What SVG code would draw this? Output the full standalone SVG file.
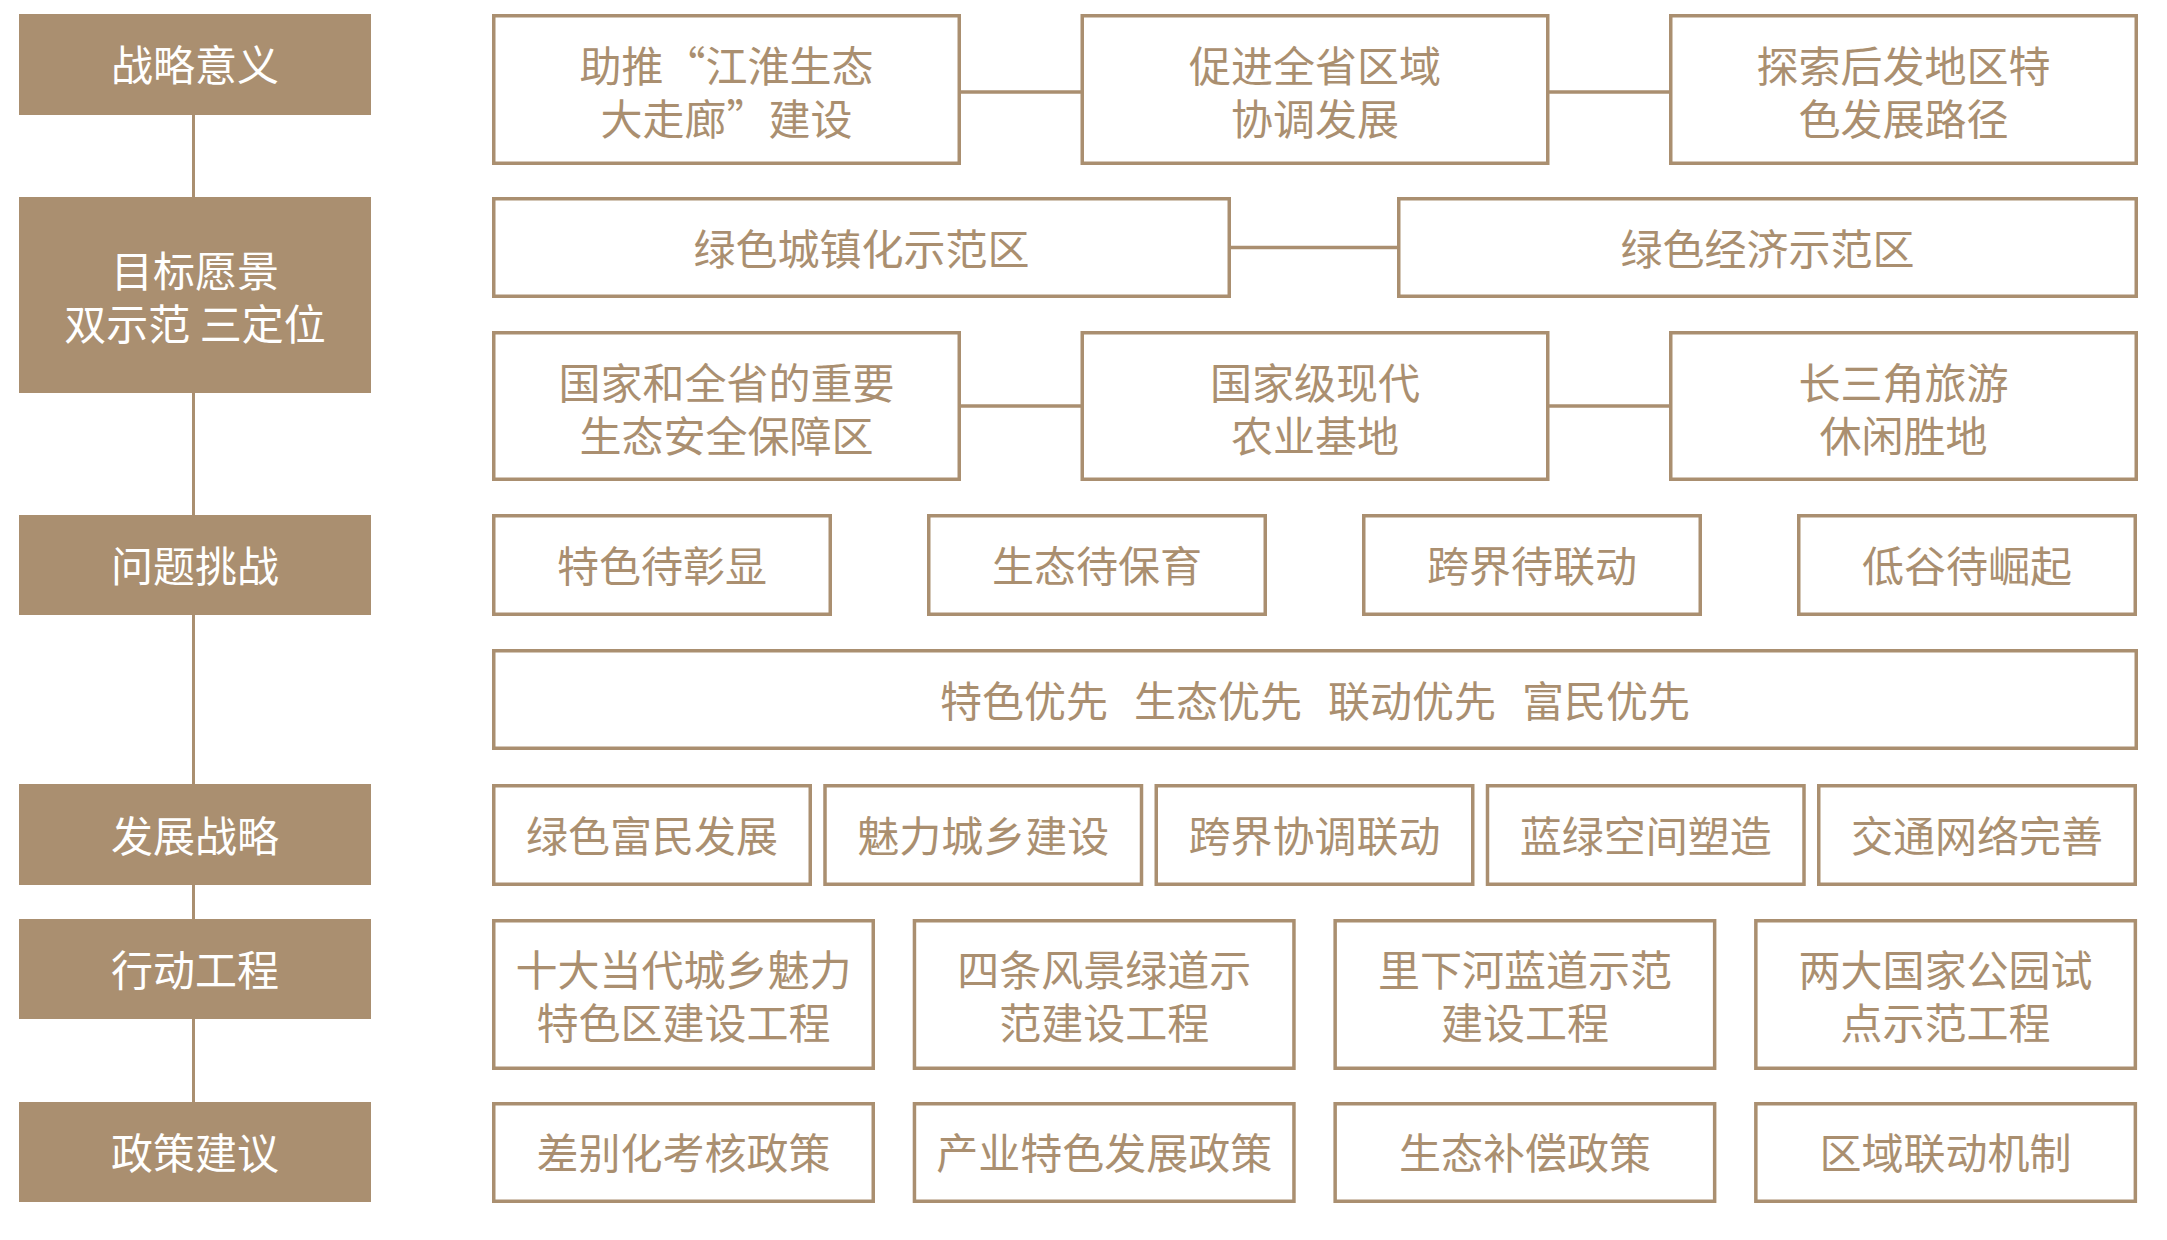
<svg xmlns="http://www.w3.org/2000/svg" width="2167" height="1240" viewBox="0 0 2167 1240">
<style>
.lb{fill:#AA8F70}
.bx{fill:#fff;stroke:#AA8F70;stroke-width:3.5}
.ln{stroke:#AA8F70;stroke-width:3.5;fill:none}
text{font-family:"Noto Sans CJK SC","Noto Sans",sans-serif;font-size:42px;font-weight:400;text-anchor:middle;dominant-baseline:central}
.tw{fill:#fff}
.tb{fill:#AA8F70}
</style>
<rect width="2167" height="1240" fill="#fff"/>
<g id="connectors">
<line class="ln" x1="193.5" y1="110" x2="193.5" y2="1105" style="stroke-width:3"/>
<line class="ln" x1="961" y1="92" x2="1081" y2="92"/>
<line class="ln" x1="1549" y1="92" x2="1670" y2="92"/>
<line class="ln" x1="1231" y1="247.5" x2="1398" y2="247.5"/>
<line class="ln" x1="961" y1="406" x2="1081" y2="406"/>
<line class="ln" x1="1549" y1="406" x2="1670" y2="406"/>
</g>
<g id="L1"><rect class="lb" x="19" y="14" width="352" height="101"/><text class="tw" x="195" y="62.5">战略意义</text></g>
<g id="L2"><rect class="lb" x="19" y="197" width="352" height="196"/><text class="tw" x="195" y="268">目标愿景</text><text class="tw" x="195" y="321">双示范 三定位</text></g>
<g id="L3"><rect class="lb" x="19" y="515" width="352" height="100"/><text class="tw" x="195" y="563">问题挑战</text></g>
<g id="L4"><rect class="lb" x="19" y="784" width="352" height="101"/><text class="tw" x="195" y="833">发展战略</text></g>
<g id="L5"><rect class="lb" x="19" y="919" width="352" height="100"/><text class="tw" x="195" y="967">行动工程</text></g>
<g id="L6"><rect class="lb" x="19" y="1102" width="352" height="100"/><text class="tw" x="195" y="1150">政策建议</text></g>

<g id="r1a"><rect class="bx" x="493.75" y="15.75" width="465.5" height="147.5"/><text class="tb" x="726.5" y="63">助推“江淮生态</text><text class="tb" x="726.5" y="116">大走廊”建设</text></g>
<g id="r1b"><rect class="bx" x="1082.25" y="15.75" width="465.5" height="147.5"/><text class="tb" x="1315" y="63">促进全省区域</text><text class="tb" x="1315" y="116">协调发展</text></g>
<g id="r1c"><rect class="bx" x="1670.75" y="15.75" width="465.5" height="147.5"/><text class="tb" x="1903.5" y="63">探索后发地区特</text><text class="tb" x="1903.5" y="116">色发展路径</text></g>

<g id="r2a"><rect class="bx" x="493.75" y="198.75" width="735.5" height="97.5"/><text class="tb" x="861.5" y="246">绿色城镇化示范区</text></g>
<g id="r2b"><rect class="bx" x="1398.75" y="198.75" width="737.5" height="97.5"/><text class="tb" x="1767.5" y="246">绿色经济示范区</text></g>

<g id="r3a"><rect class="bx" x="493.75" y="332.75" width="465.5" height="146.5"/><text class="tb" x="726.5" y="380">国家和全省的重要</text><text class="tb" x="726.5" y="433">生态安全保障区</text></g>
<g id="r3b"><rect class="bx" x="1082.25" y="332.75" width="465.5" height="146.5"/><text class="tb" x="1315" y="380">国家级现代</text><text class="tb" x="1315" y="433">农业基地</text></g>
<g id="r3c"><rect class="bx" x="1670.75" y="332.75" width="465.5" height="146.5"/><text class="tb" x="1903.5" y="380">长三角旅游</text><text class="tb" x="1903.5" y="433">休闲胜地</text></g>

<g id="p1"><rect class="bx" x="493.75" y="515.75" width="336.5" height="98.5"/><text class="tb" x="662" y="563">特色待彰显</text></g>
<g id="p2"><rect class="bx" x="928.75" y="515.75" width="336.5" height="98.5"/><text class="tb" x="1097" y="563">生态待保育</text></g>
<g id="p3"><rect class="bx" x="1363.75" y="515.75" width="336.5" height="98.5"/><text class="tb" x="1532" y="563">跨界待联动</text></g>
<g id="p4"><rect class="bx" x="1798.75" y="515.75" width="336.5" height="98.5"/><text class="tb" x="1967" y="563">低谷待崛起</text></g>

<g id="pr"><rect class="bx" x="493.75" y="650.75" width="1642.5" height="97.5"/><text class="tb" y="697.5"><tspan x="1024">特色优先</tspan><tspan x="1218">生态优先</tspan><tspan x="1412">联动优先</tspan><tspan x="1606">富民优先</tspan></text></g>

<g id="s1"><rect class="bx" x="493.75" y="785.75" width="316.5" height="98.5"/><text class="tb" x="652" y="833">绿色富民发展</text></g>
<g id="s2"><rect class="bx" x="825" y="785.75" width="316.5" height="98.5"/><text class="tb" x="983.25" y="833">魅力城乡建设</text></g>
<g id="s3"><rect class="bx" x="1156.25" y="785.75" width="316.5" height="98.5"/><text class="tb" x="1314.5" y="833">跨界协调联动</text></g>
<g id="s4"><rect class="bx" x="1487.5" y="785.75" width="316.5" height="98.5"/><text class="tb" x="1645.75" y="833">蓝绿空间塑造</text></g>
<g id="s5"><rect class="bx" x="1818.75" y="785.75" width="316.5" height="98.5"/><text class="tb" x="1977" y="833">交通网络完善</text></g>

<g id="a1"><rect class="bx" x="493.75" y="920.75" width="379.5" height="147.5"/><text class="tb" x="683.5" y="967.5">十大当代城乡魅力</text><text class="tb" x="683.5" y="1020.5">特色区建设工程</text></g>
<g id="a2"><rect class="bx" x="914.45" y="920.75" width="379.5" height="147.5"/><text class="tb" x="1104.2" y="967.5">四条风景绿道示</text><text class="tb" x="1104.2" y="1020.5">范建设工程</text></g>
<g id="a3"><rect class="bx" x="1335.15" y="920.75" width="379.5" height="147.5"/><text class="tb" x="1524.9" y="967.5">里下河蓝道示范</text><text class="tb" x="1524.9" y="1020.5">建设工程</text></g>
<g id="a4"><rect class="bx" x="1755.85" y="920.75" width="379.5" height="147.5"/><text class="tb" x="1945.6" y="967.5">两大国家公园试</text><text class="tb" x="1945.6" y="1020.5">点示范工程</text></g>

<g id="c1"><rect class="bx" x="493.75" y="1103.75" width="379.5" height="97.5"/><text class="tb" x="683.5" y="1150.5">差别化考核政策</text></g>
<g id="c2"><rect class="bx" x="914.45" y="1103.75" width="379.5" height="97.5"/><text class="tb" x="1104.2" y="1150.5">产业特色发展政策</text></g>
<g id="c3"><rect class="bx" x="1335.15" y="1103.75" width="379.5" height="97.5"/><text class="tb" x="1524.9" y="1150.5">生态补偿政策</text></g>
<g id="c4"><rect class="bx" x="1755.85" y="1103.75" width="379.5" height="97.5"/><text class="tb" x="1945.6" y="1150.5">区域联动机制</text></g>
</svg>
